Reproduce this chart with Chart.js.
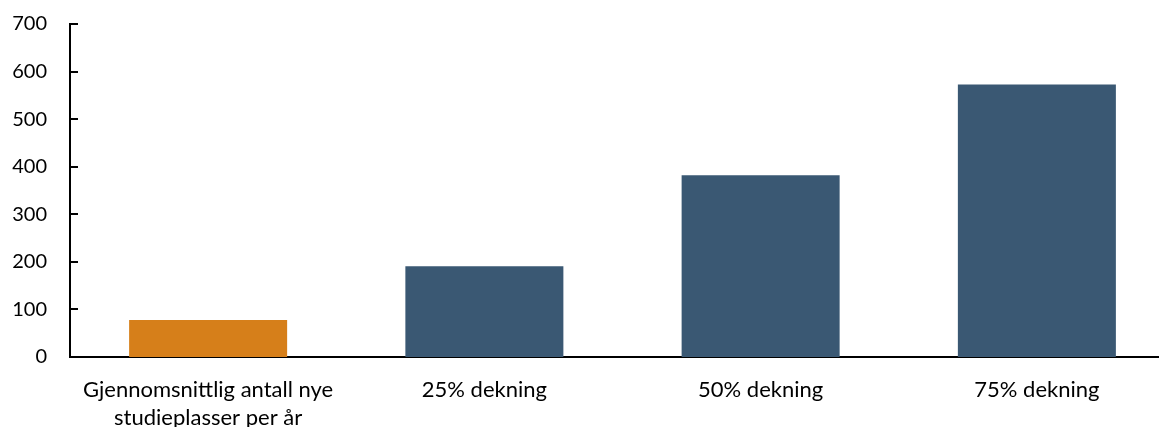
<!DOCTYPE html>
<html>
<head>
<meta charset="utf-8">
<script src="https://cdn.jsdelivr.net/npm/chart.js@4.4.1/dist/chart.umd.min.js"></script>
<style>
  html, body { margin: 0; padding: 0; background: #fff; overflow: hidden; }
  #wrap { position: absolute; left: 0; top: 0; width: 1175px; height: 427px; }
</style>
</head>
<body>
<div id="wrap"><canvas id="chart"></canvas></div>
<script>
const categories = [
  ["Gjennomsnittlig antall nye", "studieplasser per år"],
  "25% dekning",
  "50% dekning",
  "75% dekning"
];
const values = [78, 191, 382, 573];
const barColors = ["#d67f1a", "#3a5873", "#3a5873", "#3a5873"];
const yMax = 700;
const yStep = 100;

const FONT = "Lato, sans-serif";

// short tick marks pointing into the plot area
const innerTicks = {
  id: "innerTicks",
  afterDraw(chart) {
    const y = chart.scales.y;
    const ctx = chart.ctx;
    ctx.save();
    ctx.strokeStyle = "#000";
    ctx.lineWidth = 2;
    y.ticks.forEach(t => {
      const py = Math.round(y.getPixelForValue(t.value));
      ctx.beginPath();
      ctx.moveTo(y.right, py);
      ctx.lineTo(y.right + 8, py);
      ctx.stroke();
    });
    ctx.restore();
  }
};

new Chart(document.getElementById("chart"), {
  type: "bar",
  data: {
    labels: categories,
    datasets: [{
      data: values,
      backgroundColor: barColors,
      borderWidth: 0,
      barPercentage: 1,
      categoryPercentage: 0.572
    }]
  },
  options: {
    responsive: true,
    maintainAspectRatio: false,
    animation: false,
    layout: { padding: { top: 24, right: 0, left: 0, bottom: 0 } },
    plugins: { legend: { display: false }, tooltip: { enabled: false } },
    scales: {
      x: {
        grid: { display: false, drawTicks: false },
        border: { display: true, color: "#000", width: 2 },
        ticks: {
          color: "#000",
          font: { family: FONT, size: 22, lineHeight: 1.27 },
          padding: 19,
          maxRotation: 0,
          autoSkip: false
        },
        afterFit(s) { s.height = 70; }
      },
      y: {
        min: 0,
        max: yMax,
        grid: { display: false, drawTicks: false },
        border: { display: true, color: "#000", width: 2 },
        ticks: {
          stepSize: yStep,
          color: "#000",
          font: { family: FONT, size: 20, lineHeight: 1.2 },
          padding: 23
        },
        afterFit(s) {
          s.width = 70;
          s.paddingTop = 0;
          s.paddingBottom = 0;
        }
      }
    }
  },
  plugins: [innerTicks]
});
</script>
</body>
</html>
